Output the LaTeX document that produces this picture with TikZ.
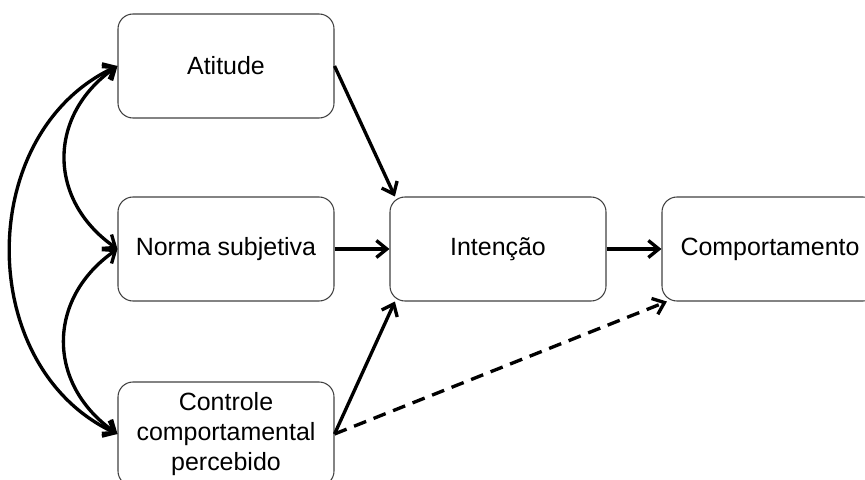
\documentclass[tikz,border=0pt]{standalone}
\usepackage{fontspec}
\setmainfont{Liberation Sans}
\usetikzlibrary{arrows.meta}
\begin{document}
\begin{tikzpicture}[>={Straight Barb[length=0.21cm,width=0.34cm]},
  box/.style={draw=black!75,line width=0.6pt,rounded corners=0.3cm,minimum width=4.32cm,minimum height=2.08cm,align=center,inner sep=0pt},
  lnk/.style={line width=1.9pt},
  every node/.style={font=\fontsize{14.2}{17}\selectfont}]
\clip (0,0) rectangle (17.3,9.58);
\node[box] (att) at (4.52,8.26) {Atitude};
\node[box] (nor) at (4.52,4.60) {Norma subjetiva};
\node[box] (ctl) at (4.52,0.90) {Controle\\comportamental\\percebido};
\node[box] (int) at (9.96,4.60) {Intenção};
\node[box] (cmp) at (15.40,4.60) {Comportamento};
\draw[lnk,->] (att.east) -- (int.153);
\draw[lnk,->] (nor.east) -- (int.west);
\draw[lnk,->] (ctl.east) -- (int.207);
\draw[lnk,->] (int.east) -- (cmp.west);
\draw[lnk,->,dash pattern=on 0.26cm off 0.16cm] (ctl.east) -- (cmp.207);
\draw[lnk,<->] (att.west) to[out=215,in=145,looseness=1.2] (nor.west);
\draw[lnk,<->] (nor.west) to[out=215,in=145,looseness=1.2] (ctl.west);
\draw[lnk,<->] (att.west) to[out=205,in=155,looseness=1.1] (ctl.west);
\end{tikzpicture}
\end{document}
